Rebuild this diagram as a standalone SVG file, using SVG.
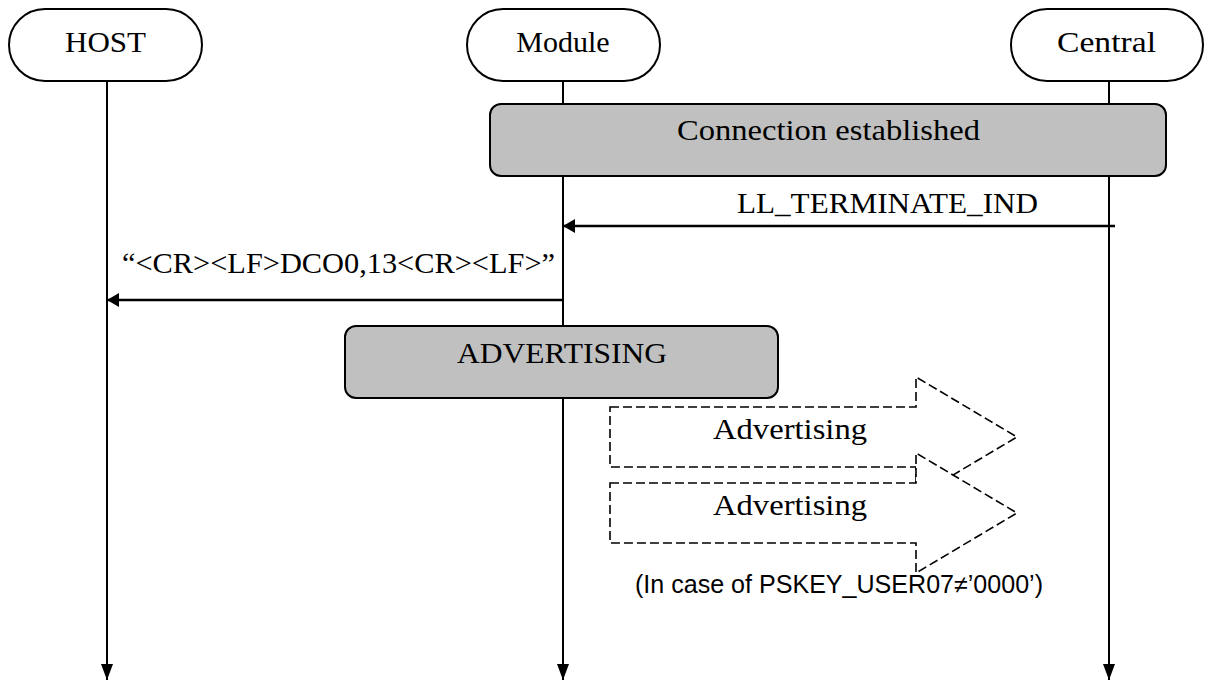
<svg xmlns="http://www.w3.org/2000/svg" width="1205" height="681" viewBox="0 0 1205 681">
<style>
.pill{fill:#fff;stroke:#000;stroke-width:2}
.box{fill:#c0c0c0;stroke:#000;stroke-width:2}
.life{stroke:#000;stroke-width:2;fill:none}
.msg{stroke:#000;stroke-width:2.5;fill:none}
.dash{fill:#fff;stroke:#000;stroke-width:1.6;stroke-dasharray:9 4}
.t{font-family:"Liberation Serif","Times New Roman",serif;font-size:30px;fill:#000;text-anchor:middle}
.s{font-family:"Liberation Sans",Arial,sans-serif;font-size:25px;fill:#000}
</style>
<defs>
<marker id="ah" viewBox="0 0 12 14" refX="12" refY="7" markerWidth="12" markerHeight="14" markerUnits="userSpaceOnUse" orient="auto">
<path d="M0,0 L12,7 L0,14 Z" fill="#000"/>
</marker>
<marker id="ahd" viewBox="0 0 16 12" refX="16" refY="6" markerWidth="16" markerHeight="12" markerUnits="userSpaceOnUse" orient="auto">
<path d="M0,0 L16,6 L0,12 Z" fill="#000"/>
</marker>
</defs>
<g id="lifelines">
<line class="life" x1="107" y1="81" x2="107" y2="680" marker-end="url(#ahd)"/>
<line class="life" x1="563" y1="81" x2="563" y2="680" marker-end="url(#ahd)"/>
<line class="life" x1="1109" y1="81" x2="1109" y2="680" marker-end="url(#ahd)"/>
</g>
<g id="host">
<rect class="pill" x="9" y="9" width="193" height="72" rx="36" ry="36"/>
<text class="t" x="105.5" y="52" textLength="81" lengthAdjust="spacingAndGlyphs">HOST</text>
</g>
<g id="module">
<rect class="pill" x="467" y="9" width="193" height="72" rx="36" ry="36"/>
<text class="t" x="563" y="52">Module</text>
</g>
<g id="central">
<rect class="pill" x="1011" y="9" width="192" height="72" rx="36" ry="36"/>
<text class="t" x="1106.5" y="52" textLength="99" lengthAdjust="spacingAndGlyphs">Central</text>
</g>
<g id="connection-established">
<rect class="box" x="490" y="104" width="676" height="72" rx="11" ry="11"/>
<text class="t" x="828.5" y="140" textLength="303" lengthAdjust="spacingAndGlyphs">Connection established</text>
</g>
<g id="advertising-state">
<rect class="box" x="345" y="326" width="433" height="72" rx="11" ry="11"/>
<text class="t" x="562" y="363" textLength="210" lengthAdjust="spacingAndGlyphs">ADVERTISING</text>
</g>
<g id="connectors">
<line class="msg" x1="1115" y1="226" x2="563" y2="226" marker-end="url(#ah)"/>
<text class="t" x="887.5" y="213" textLength="301" lengthAdjust="spacingAndGlyphs">LL_TERMINATE_IND</text>
<line class="msg" x1="563" y1="300" x2="107" y2="300" marker-end="url(#ah)"/>
<text class="t" x="338.5" y="273" textLength="433" lengthAdjust="spacingAndGlyphs">“&lt;CR&gt;&lt;LF&gt;DCO0,13&lt;CR&gt;&lt;LF&gt;”</text>
</g>
<g id="advertising-1">
<path class="dash" d="M610,407 L916,407 L916,377 L1017,437 L916,497 L916,467 L610,467 Z"/>
<text class="t" x="790" y="439" textLength="154" lengthAdjust="spacingAndGlyphs">Advertising</text>
</g>
<g id="advertising-2">
<path class="dash" d="M610,483 L916,483 L916,453 L1017,513 L916,573 L916,543 L610,543 Z"/>
<text class="t" x="790" y="515" textLength="154" lengthAdjust="spacingAndGlyphs">Advertising</text>
</g>
<g id="note">
<text class="s" x="635" y="593" textLength="408" lengthAdjust="spacingAndGlyphs">(In case of PSKEY_USER07≠’0000’)</text>
</g>
</svg>
